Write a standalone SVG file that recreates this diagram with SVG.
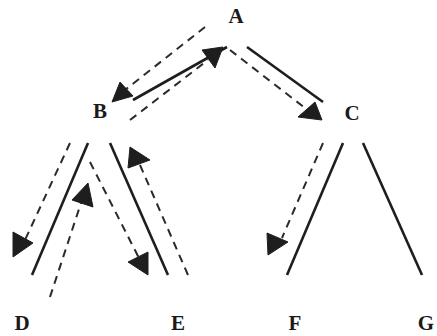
<svg xmlns="http://www.w3.org/2000/svg" width="437" height="336" viewBox="0 0 437 336">
<style>
.lbl{font-family:"Liberation Serif",serif;font-weight:bold;font-size:21px;fill:#1a1a1a;text-anchor:middle}
.solid{stroke:#1e1e1e;stroke-width:2.6;fill:none;stroke-linecap:butt}
.dash{stroke:#2a2a2a;stroke-width:2;fill:none;stroke-dasharray:8 6}
.head{fill:#1e1e1e;stroke:#1e1e1e;stroke-width:1;stroke-linejoin:round}
</style>
<rect width="437" height="336" fill="#ffffff"/>
<g id="A"><text class="lbl" x="236" y="23">A</text></g>
<g id="B"><text class="lbl" x="100" y="118">B</text></g>
<g id="C"><text class="lbl" x="352" y="120">C</text></g>
<g id="D"><text class="lbl" x="22" y="330">D</text></g>
<g id="E"><text class="lbl" x="178" y="330">E</text></g>
<g id="F"><text class="lbl" x="295" y="330">F</text></g>
<g id="G"><text class="lbl" x="426" y="330">G</text></g>
<g id="connectors">
<!-- A-B -->
<line class="solid" x1="133" y1="100" x2="227" y2="47"/>
<line class="dash" x1="205" y1="27" x2="125" y2="90"/>
<polygon class="head" points="112,102 120,82 133,96"/>
<line class="dash" x1="130" y1="120" x2="208" y2="60"/>
<polygon class="head" points="202,50 223,47 215,68"/>
<!-- A-C -->
<line class="solid" x1="247" y1="47" x2="323" y2="102"/>
<line class="dash" x1="230" y1="50" x2="305" y2="108"/>
<polygon class="head" points="298,117 315,102 322,120"/>
<!-- B-D -->
<line class="solid" x1="88" y1="143" x2="32" y2="275"/>
<line class="dash" x1="70" y1="143" x2="25" y2="240"/>
<polygon class="head" points="13,232 13,257 33,243"/>
<line class="dash" x1="50" y1="297" x2="82" y2="200"/>
<polygon class="head" points="88,183 72,200 93,207"/>
<!-- B-E -->
<line class="solid" x1="110" y1="143" x2="168" y2="275"/>
<line class="dash" x1="90" y1="162" x2="140" y2="260"/>
<polygon class="head" points="128,262 148,252 148,275"/>
<line class="dash" x1="188" y1="275" x2="140" y2="165"/>
<polygon class="head" points="130,147 128,168 150,160"/>
<!-- C-F, C-G -->
<line class="solid" x1="343" y1="143" x2="287" y2="275"/>
<line class="solid" x1="363" y1="143" x2="422" y2="275"/>
<line class="dash" x1="323" y1="143" x2="282" y2="238"/>
<polygon class="head" points="267,233 268,255 288,242"/>
</g>
</svg>
